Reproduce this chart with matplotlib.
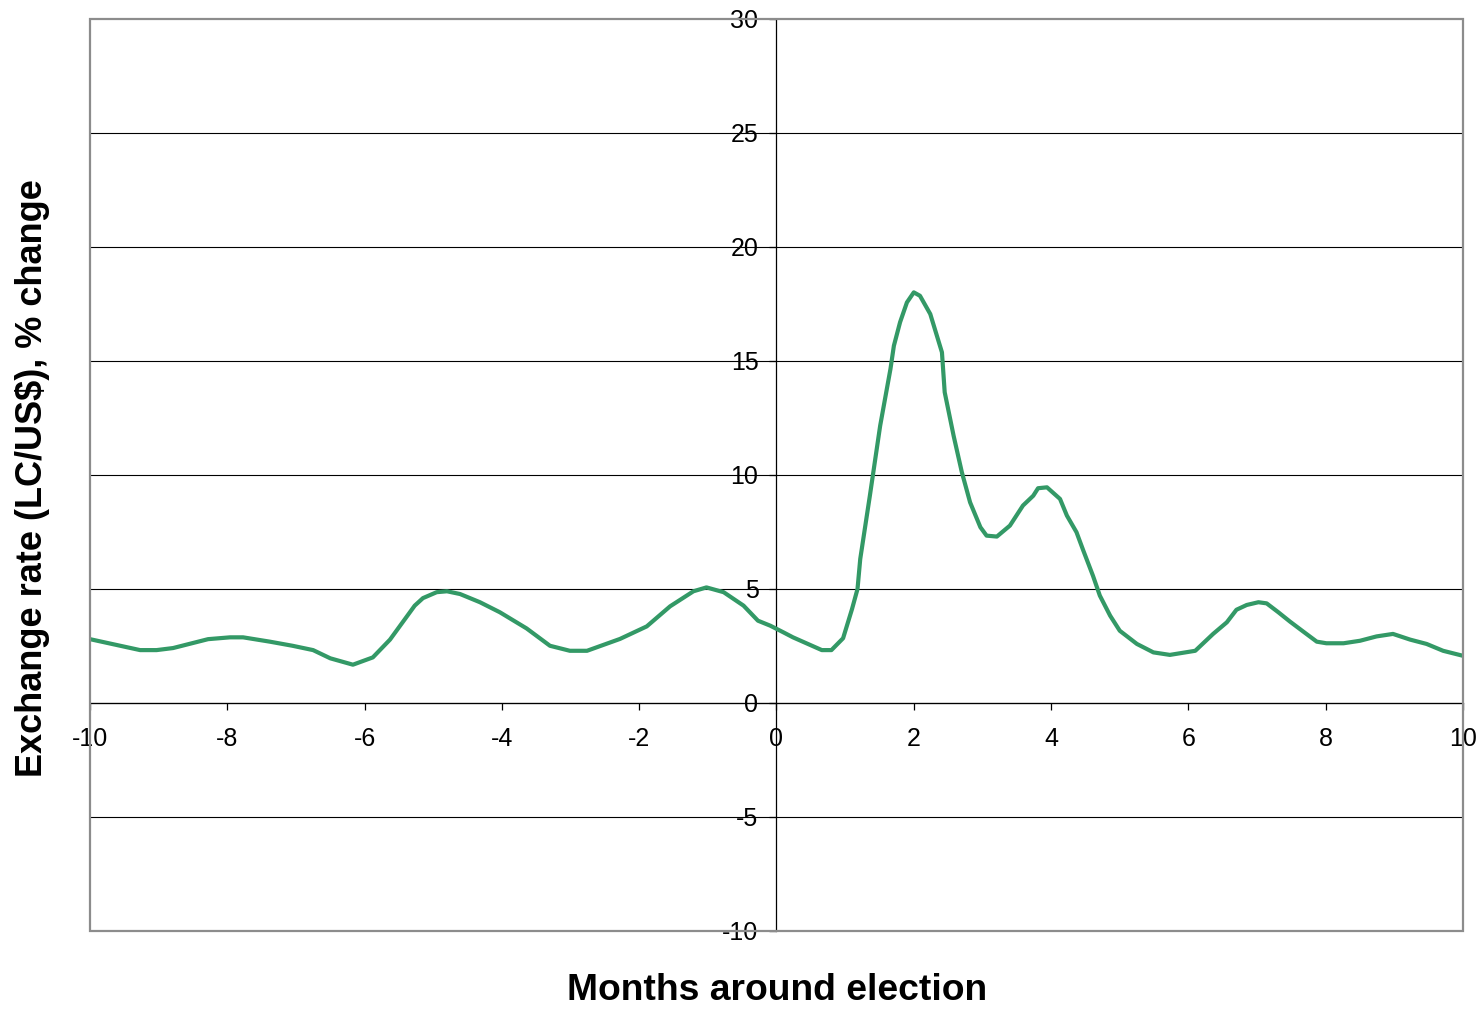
import matplotlib.pyplot as plt
from matplotlib.patches import Rectangle

# months relative to election and % change of exchange rate
months = [-10.0, -9.27, -9.03, -8.79, -8.28, -7.96, -7.77, -7.38, -7.05, -6.75,
          -6.50, -6.17, -5.88, -5.63, -5.27, -5.15, -4.95, -4.80, -4.61, -4.32,
          -4.03, -3.64, -3.30, -3.01, -2.76, -2.28, -1.89, -1.55, -1.21, -1.02,
          -0.77, -0.48, -0.27, -0.09, 0.10, 0.24, 0.66, 0.80, 0.97, 1.10,
          1.18, 1.22, 1.36, 1.51, 1.66, 1.71, 1.80, 1.90, 2.00, 2.09,
          2.24, 2.41, 2.45, 2.58, 2.70, 2.82, 2.97, 3.06, 3.21, 3.40,
          3.59, 3.74, 3.81, 3.94, 4.13, 4.23, 4.37, 4.47, 4.61, 4.71,
          4.86, 5.00, 5.25, 5.49, 5.73, 6.10, 6.36, 6.56, 6.70, 6.85,
          7.02, 7.14, 7.31, 7.48, 7.67, 7.87, 8.01, 8.26, 8.50, 8.74,
          8.98, 9.23, 9.47, 9.71, 10.0]
pct_change = [2.80, 2.32, 2.32, 2.41, 2.80, 2.88, 2.88, 2.69, 2.51, 2.32,
              1.96, 1.68, 2.00, 2.78, 4.27, 4.60, 4.86, 4.90, 4.78, 4.42,
              3.98, 3.27, 2.51, 2.29, 2.29, 2.81, 3.36, 4.24, 4.90, 5.07,
              4.86, 4.27, 3.61, 3.39, 3.10, 2.88, 2.32, 2.32, 2.84, 4.12,
              5.00, 6.32, 9.09, 12.16, 14.65, 15.67, 16.70, 17.57, 18.01, 17.86,
              17.06, 15.38, 13.63, 11.72, 10.12, 8.80, 7.71, 7.34, 7.30, 7.78,
              8.66, 9.09, 9.42, 9.46, 8.95, 8.22, 7.49, 6.68, 5.58, 4.71,
              3.83, 3.17, 2.59, 2.22, 2.11, 2.29, 3.03, 3.54, 4.09, 4.30,
              4.42, 4.37, 3.98, 3.57, 3.14, 2.69, 2.62, 2.62, 2.73, 2.92,
              3.03, 2.78, 2.59, 2.29, 2.07]

x_ticks = [-10, -8, -6, -4, -2, 0, 2, 4, 6, 8, 10]
y_ticks = [-10, -5, 0, 5, 10, 15, 20, 25, 30]

plt.rcParams['font.family'] = ['Liberation Sans', 'DejaVu Sans']
plt.rcParams['axes.unicode_minus'] = False

fig = plt.figure(figsize=(14.81, 10.10), dpi=100)
ax = fig.add_axes([90 / 1481, 1 - 931 / 1010, 1373 / 1481, 912 / 1010])

ax.set_xlim(-10, 10)
ax.set_ylim(-10, 30)

# horizontal gridlines
for y in y_ticks[1:-1]:
    ax.axhline(y, color='black', lw=0.8, zorder=1)

ax.plot(months, pct_change, color='#339966', lw=3.0, zorder=3,
        solid_joinstyle='round', solid_capstyle='round')

# axes cross at zero, gray frame around plot area
ax.spines['left'].set_position(('data', 0))
ax.spines['bottom'].set_position(('data', 0))
for s in ['left', 'bottom']:
    ax.spines[s].set_color('black')
    ax.spines[s].set_linewidth(0.9)
    ax.spines[s].set_zorder(2)
for s in ['top', 'right']:
    ax.spines[s].set_visible(False)
ax.add_patch(Rectangle((0, 0), 1, 1, transform=ax.transAxes, fill=False,
                       edgecolor='#8c8c8c', lw=1.6, clip_on=False, zorder=4))

ax.set_xticks(x_ticks)
ax.set_yticks(y_ticks)
ax.tick_params(axis='both', direction='out', length=5, width=0.9,
               color='black', labelsize=18)
ax.tick_params(axis='y', pad=8)
ax.tick_params(axis='x', pad=12)

fig.text(777 / 1481, 1 - 991 / 1010, 'Months around election', ha='center',
         va='center', fontsize=26.8, fontweight='bold')
fig.text(33 / 1481, 1 - 478 / 1010, 'Exchange rate (LC/US$), % change',
         ha='center', va='center', rotation=90, fontsize=26, fontweight='bold')

fig.savefig('out.png', dpi=100)
